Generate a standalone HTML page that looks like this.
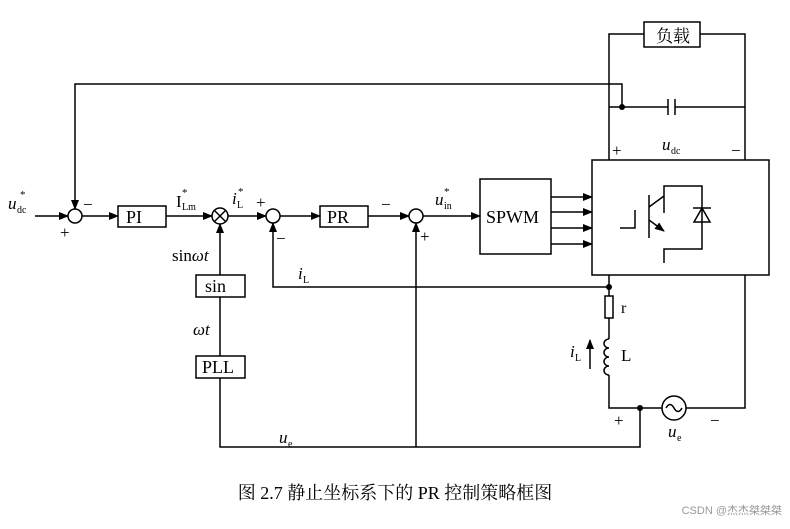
<!DOCTYPE html>
<html><head><meta charset="utf-8"><style>
body{margin:0;background:#fff;}
svg text{font-family:"Liberation Serif","Noto Serif CJK SC",serif;fill:#000;}
</style></head><body>
<svg width="790" height="524" viewBox="0 0 790 524" xmlns="http://www.w3.org/2000/svg">
<defs><marker id="a" markerWidth="10" markerHeight="8" refX="9" refY="4" orient="auto" markerUnits="userSpaceOnUse"><path d="M0,0 L10,4 L0,8 Z" fill="#000"/></marker></defs>
<g stroke="#000" stroke-width="1.5" fill="none">
<polyline points="609,160 609,34 644,34"/><polyline points="700,34 745,34 745,160"/>
<rect x="644" y="22" width="56" height="25" fill="#fff"/>
<line x1="609" y1="107" x2="668" y2="107"/><line x1="675" y1="107" x2="745" y2="107"/>
<line x1="668" y1="99" x2="668" y2="115"/><line x1="675" y1="99" x2="675" y2="115"/>
<polyline points="622,107 622,84 75,84 75,209" marker-end="url(#a)"/>
<line x1="35" y1="216" x2="68" y2="216" marker-end="url(#a)"/>
<circle cx="75" cy="216" r="7"/>
<line x1="82" y1="216" x2="118" y2="216" marker-end="url(#a)"/>
<rect x="118" y="206" width="48" height="21"/>
<line x1="166" y1="216" x2="212" y2="216" marker-end="url(#a)"/>
<circle cx="220" cy="216" r="8"/>
<line x1="214" y1="210" x2="226" y2="222"/><line x1="226" y1="210" x2="214" y2="222"/>
<line x1="228" y1="216" x2="266" y2="216" marker-end="url(#a)"/>
<circle cx="273" cy="216" r="7"/>
<line x1="280" y1="216" x2="320" y2="216" marker-end="url(#a)"/>
<rect x="320" y="206" width="48" height="21"/>
<line x1="368" y1="216" x2="409" y2="216" marker-end="url(#a)"/>
<circle cx="416" cy="216" r="7"/>
<line x1="423" y1="216" x2="480" y2="216" marker-end="url(#a)"/>
<rect x="480" y="179" width="71" height="75"/>
<line x1="551" y1="197" x2="592" y2="197" marker-end="url(#a)"/>
<line x1="551" y1="212" x2="592" y2="212" marker-end="url(#a)"/>
<line x1="551" y1="228" x2="592" y2="228" marker-end="url(#a)"/>
<line x1="551" y1="244" x2="592" y2="244" marker-end="url(#a)"/>
<rect x="592" y="160" width="177" height="115"/>
<polyline points="620,228 635,228 635,210"/>
<line x1="649" y1="195" x2="649" y2="238"/>
<polyline points="664,213 664,186 702,186 702,249 664,249 664,263"/>
<line x1="649" y1="207" x2="664" y2="196"/>
<line x1="649" y1="220" x2="664" y2="231" marker-end="url(#a)"/>
<line x1="693" y1="208" x2="711" y2="208"/>
<path d="M702,208 L694,222 L710,222 Z"/>
<line x1="220" y1="275" x2="220" y2="224" marker-end="url(#a)"/>
<rect x="196" y="275" width="49" height="22"/>
<line x1="220" y1="297" x2="220" y2="356"/>
<rect x="196" y="356" width="49" height="22"/>
<polyline points="220,378 220,447 640,447 640,408"/>
<line x1="416" y1="447" x2="416" y2="223" marker-end="url(#a)"/>
<polyline points="609,287 273,287 273,223" marker-end="url(#a)"/>
<line x1="609" y1="275" x2="609" y2="296"/>
<rect x="605" y="296" width="8" height="22"/>
<line x1="609" y1="318" x2="609" y2="339"/>
<path d="M609,339 a5,4.5 0 1 0 0,9 a5,4.5 0 1 0 0,9 a5,4.5 0 1 0 0,9 a5,4.5 0 1 0 0,9"/>
<polyline points="609,375 609,408 662,408"/>
<circle cx="674" cy="408" r="12"/>
<path d="M666,408 q4,-7 8,0 t8,0"/>
<polyline points="686,408 745,408 745,275"/>
<line x1="590" y1="369" x2="590" y2="340" marker-end="url(#a)"/>
</g>
<g fill="#000"><circle cx="622" cy="107" r="3"/><circle cx="609" cy="287" r="3"/><circle cx="640" cy="408" r="3"/></g>
<g font-size="18">
<text x="656" y="42" font-size="17">负载</text>
<text x="126" y="223">PI</text>
<text x="327" y="223">PR</text>
<text x="486" y="223">SPWM</text>
<text x="205" y="292">sin</text>
<text x="202" y="373">PLL</text>
<text x="621" y="313" font-size="16">r</text>
<text x="621" y="361" font-size="17">L</text>
</g>
<g font-size="17">
<text x="8" y="209" font-style="italic">u</text><text x="17" y="213" font-size="10">dc</text><text x="20" y="198" font-size="11">*</text>
<text x="60" y="238">+</text><text x="83" y="210">−</text>
<text x="176" y="207">I</text><text x="182" y="210" font-size="10">Lm</text><text x="182" y="196" font-size="11">*</text>
<text x="232" y="204" font-style="italic">i</text><text x="237" y="208" font-size="10">L</text><text x="238" y="195" font-size="11">*</text>
<text x="256" y="208">+</text><text x="276" y="244">−</text>
<text x="381" y="210">−</text><text x="420" y="242">+</text>
<text x="435" y="205" font-style="italic">u</text><text x="444" y="209" font-size="10">in</text><text x="444" y="195" font-size="11">*</text>
<text x="172" y="261">sin<tspan font-style="italic">ωt</tspan></text>
<text x="193" y="335" font-style="italic">ωt</text>
<text x="298" y="279" font-style="italic">i</text><text x="303" y="283" font-size="10">L</text>
<text x="570" y="357" font-style="italic">i</text><text x="575" y="361" font-size="10">L</text>
<text x="612" y="156">+</text><text x="731" y="156">−</text>
<text x="662" y="150" font-style="italic">u</text><text x="671" y="154" font-size="10">dc</text>
<text x="614" y="426">+</text><text x="710" y="426">−</text>
<text x="668" y="437" font-style="italic">u</text><text x="677" y="441" font-size="10">e</text>
<text x="279" y="443" font-style="italic">u</text><text x="288" y="447" font-size="10">e</text>
</g>
<text x="395" y="499" font-size="18" text-anchor="middle">图 2.7 静止坐标系下的 PR 控制策略框图</text>
<text x="782" y="514" font-size="11" text-anchor="end" style="font-family:'Liberation Sans','Noto Sans CJK SC',sans-serif;fill:#999">CSDN @杰杰桀桀桀</text>
</svg>
</body></html>
